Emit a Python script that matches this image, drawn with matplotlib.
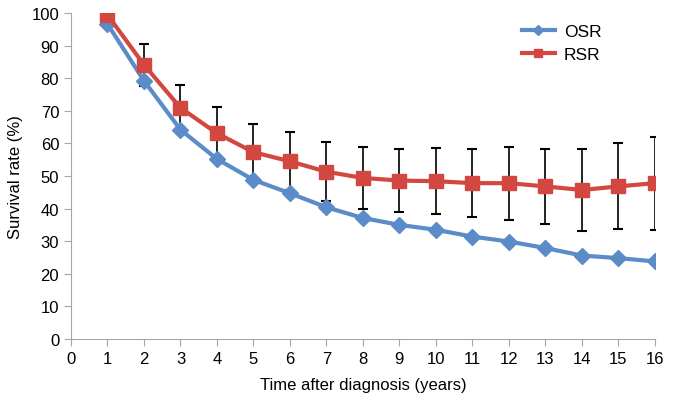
import numpy as np
import matplotlib.pyplot as plt

plt.rcParams['font.family'] = ['Liberation Sans', 'DejaVu Sans']

# datos
anios = np.arange(1, 17)
osr = [96.6, 79.2, 64.2, 55.2, 48.8, 44.7, 40.4, 37.1, 35.0, 33.5,
       31.4, 29.9, 27.9, 25.6, 24.8, 23.8]
rsr = [99.4, 84.1, 70.9, 63.1, 57.3, 54.5, 51.3, 49.4, 48.6, 48.4,
       47.8, 47.8, 46.8, 45.7, 46.8, 47.8]
rsr_err = [0, 6.4, 7.1, 8.0, 8.6, 8.9, 9.1, 9.4, 9.7, 10.2,
           10.5, 11.2, 11.5, 12.5, 13.2, 14.3]

azul = '#5B8CC8'
rojo = '#D2473F'
gris = '#A6A6A6'

fig = plt.figure(figsize=(6.73, 4.06), dpi=100)
ax = fig.add_axes([0.1055, 0.1626, 0.8675, 0.803])

ax.errorbar(anios, rsr, yerr=rsr_err, fmt='none', ecolor='black',
            elinewidth=1.2, capsize=3.5, capthick=1.5, zorder=1)
ax.plot(anios, osr, color=azul, linewidth=3, marker='D', markersize=8,
        label='OSR', zorder=2)
ax.plot(anios, rsr, color=rojo, linewidth=3, marker='s', markersize=10,
        label='RSR', zorder=3)

ax.set_xlim(0, 16)
ax.set_ylim(0, 100)
ax.set_xticks(range(0, 17))
ax.set_yticks(range(0, 101, 10))

for lado in ['top', 'right']:
    ax.spines[lado].set_visible(False)
for lado in ['left', 'bottom']:
    ax.spines[lado].set_color(gris)
ax.tick_params(colors=gris, labelcolor='black', labelsize=12,
               direction='out', length=5)

ax.set_xlabel('Time after diagnosis (years)', fontsize=12, labelpad=8)
ax.set_ylabel('Survival rate (%)', fontsize=12, labelpad=6)

ax.legend(loc='upper right', bbox_to_anchor=(0.935, 1.015), frameon=False,
          fontsize=12.5, handlelength=1.9, handletextpad=0.5,
          labelspacing=0.45, markerscale=0.6)

fig.savefig('out.png', dpi=100)
